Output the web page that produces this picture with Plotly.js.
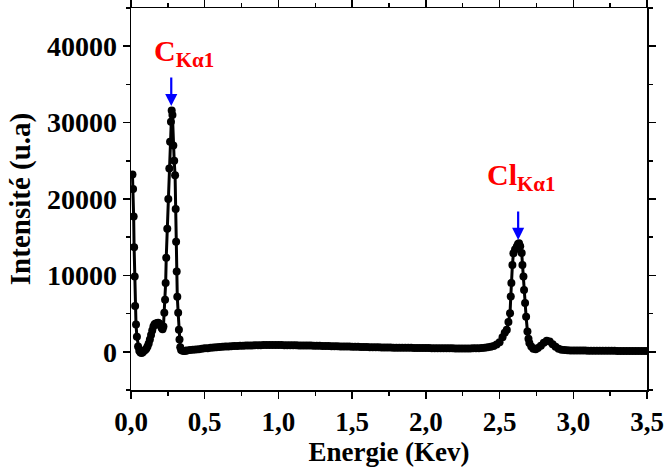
<!DOCTYPE html>
<html>
<head>
<meta charset="utf-8">
<script src="https://cdn.plot.ly/plotly-3.0.1.min.js"></script>
<style>html,body{margin:0;padding:0;background:#fff;}#chart{width:666px;height:467px;}</style>
</head>
<body>
<div id="chart"></div>
<script>
// Energy (keV) and intensity (u.a)
const energie = [
 0.010,0.014,0.018,0.021,0.025,0.028,0.034,0.040,0.048,0.056,0.064,0.072,0.080,0.088,0.096,0.104,0.112,0.120,0.128,0.136,
 0.144,0.152,0.160,0.168,0.176,0.184,0.192,0.200,0.208,0.214,0.220,0.226,0.231,0.235,0.239,0.246,0.253,0.260,0.265,0.271,
 0.276,0.281,0.287,0.293,0.299,0.303,0.306,0.310,0.314,0.320,0.325,0.329,0.334,0.340,0.350,0.360,0.370,0.38,0.40,0.42,
 0.44,0.46,0.48,0.50,0.52,0.54,0.56,0.58,0.60,0.62,0.64,0.66,0.68,0.70,0.72,0.74,0.76,0.78,0.80,0.82,
 0.84,0.86,0.88,0.90,0.92,0.94,0.96,0.98,1.00,1.02,1.04,1.06,1.08,1.10,1.12,1.14,1.16,1.18,1.20,1.22,
 1.24,1.26,1.28,1.30,1.32,1.34,1.36,1.38,1.40,1.42,1.44,1.46,1.48,1.50,1.52,1.54,1.56,1.58,1.60,1.62,
 1.64,1.66,1.68,1.70,1.72,1.74,1.76,1.78,1.80,1.82,1.84,1.86,1.88,1.90,1.92,1.94,1.96,1.98,2.00,2.02,
 2.04,2.06,2.08,2.10,2.12,2.14,2.16,2.18,2.20,2.22,2.24,2.26,2.28,2.30,2.32,2.34,2.36,2.38,2.40,2.42,
 2.44,2.46,2.48,2.50,2.52,2.535,2.549,2.56,2.571,2.576,2.580,2.587,2.594,2.605,2.617,2.625,2.632,2.640,2.650,2.655,
 2.662,2.666,2.673,2.680,2.689,2.696,2.702,2.715,2.729,2.745,2.76,2.78,2.80,2.82,2.84,2.86,2.88,2.90,2.92,2.94,
 2.96,2.98,3.00,3.02,3.04,3.06,3.08,3.10,3.12,3.14,3.16,3.18,3.20,3.22,3.24,3.26,3.28,3.30,3.32,3.34,
 3.36,3.38,3.40,3.42,3.44,3.46,3.48,3.50
];
const intensite = [
 23200,21300,17700,13700,9850,6000,3570,1960,700,150,-100,-150,-50,150,250,400,700,1100,1600,2200,
 2800,3300,3600,3700,3750,3800,3700,3400,3100,2950,3300,5100,6800,9000,12300,16100,20000,24000,27500,30100,
 31600,31000,27000,25000,23100,18700,14400,10500,7200,5100,2900,1600,600,250,150,120,150,180,220,260,
 300,350,400,450,480,520,560,600,630,660,690,710,730,750,770,790,800,820,830,840,
 850,860,870,880,880,890,890,890,880,880,870,870,860,860,850,840,840,830,820,810,
 800,790,780,770,760,750,740,730,720,710,700,690,680,670,660,650,640,630,620,610,
 600,590,580,570,560,555,550,545,540,535,530,525,520,515,510,505,500,495,490,485,
 480,475,470,465,460,455,450,450,445,440,440,440,440,440,450,460,480,500,530,580,
 650,750,950,1250,1900,2500,2870,3900,5060,7230,9000,11370,12900,13400,13770,14100,14200,13800,12940,11370,
 9850,8100,6400,4600,2650,1700,1150,700,400,350,500,800,1200,1450,1350,1000,650,400,280,220,
 200,180,170,165,160,160,155,150,150,145,140,140,135,130,130,130,125,120,120,120,
 115,115,110,110,110,105,105,100
];
const xTickVals = [0, 0.5, 1.0, 1.5, 2.0, 2.5, 3.0, 3.5];
const xTickText = ['0,0','0,5','1,0','1,5','2,0','2,5','3,0','3,5'];
const yTickVals = [0, 10000, 20000, 30000, 40000];
const yTickText = ['0','10000','20000','30000','40000'];
const peakNames = ['C', 'Cl'];
const peakEnergie = [0.273, 2.626];
const peakTip = [32160, 14640];

const serif = 'Liberation Serif, Times New Roman, serif';

const trace = {
  x: energie, y: intensite, type: 'scatter', mode: 'lines+markers',
  line: {color: '#000', width: 3},
  marker: {color: '#000', size: 8},
  hoverinfo: 'skip', showlegend: false
};

const annotations = [];
const labelX = [0.142, 2.402];
const labelY = [41830, 25620];
peakNames.forEach((n, i) => {
  annotations.push({
    x: peakEnergie[i], y: peakTip[i], xref: 'x', yref: 'y', text: '',
    showarrow: true, ax: 0, ay: -30, arrowcolor: '#0000ff', arrowwidth: 2.2,
    arrowhead: 2, arrowsize: 1.1, standoff: 0
  });
  annotations.push({
    x: labelX[i], y: labelY[i], xref: 'x', yref: 'y', xanchor: 'left', yanchor: 'top',
    showarrow: false, text: n + '<sub>Kα1</sub>',
    font: {family: serif, size: 30, color: '#ff0000', weight: 'bold'}
  });
});

const layout = {
  width: 666, height: 467,
  margin: {l: 131, r: 19, t: 8, b: 77},
  paper_bgcolor: '#fff', plot_bgcolor: '#fff',
  font: {family: serif, color: '#000'},
  showlegend: false,
  xaxis: {
    range: [0, 3.5], tickmode: 'array', tickvals: xTickVals, ticktext: xTickText,
    ticks: 'outside', ticklen: 7, tickwidth: 1.5, tickcolor: '#000',
    minor: {tickmode: 'linear', tick0: 0, dtick: 0.25, ticks: 'outside', ticklen: 4, tickwidth: 1.5, tickcolor: '#000'},
    showline: true, linecolor: '#000', linewidth: 1.5, mirror: 'allticks',
    showgrid: false, zeroline: false,
    tickfont: {family: serif, size: 27, weight: 'bold', color: '#000'},
    title: {text: 'Energie (Kev)', font: {family: serif, size: 27, weight: 'bold', color: '#000'}, standoff: 8}
  },
  yaxis: {
    range: [-5000, 45000], tickmode: 'array', tickvals: yTickVals, ticktext: yTickText,
    ticks: 'outside', ticklen: 7, tickwidth: 1.5, tickcolor: '#000',
    minor: {tickmode: 'linear', tick0: 0, dtick: 5000, ticks: 'outside', ticklen: 4, tickwidth: 1.5, tickcolor: '#000'},
    showline: true, linecolor: '#000', linewidth: 1.5, mirror: 'allticks',
    showgrid: false, zeroline: false,
    tickfont: {family: serif, size: 28, weight: 'bold', color: '#000'},
    title: {text: 'Intensité (u.a)', font: {family: serif, size: 29, weight: 'bold', color: '#000'}, standoff: 8}
  },
  annotations: annotations
};

Plotly.newPlot('chart', [trace], layout, {displayModeBar: false, staticPlot: true});
</script>
</body>
</html>
